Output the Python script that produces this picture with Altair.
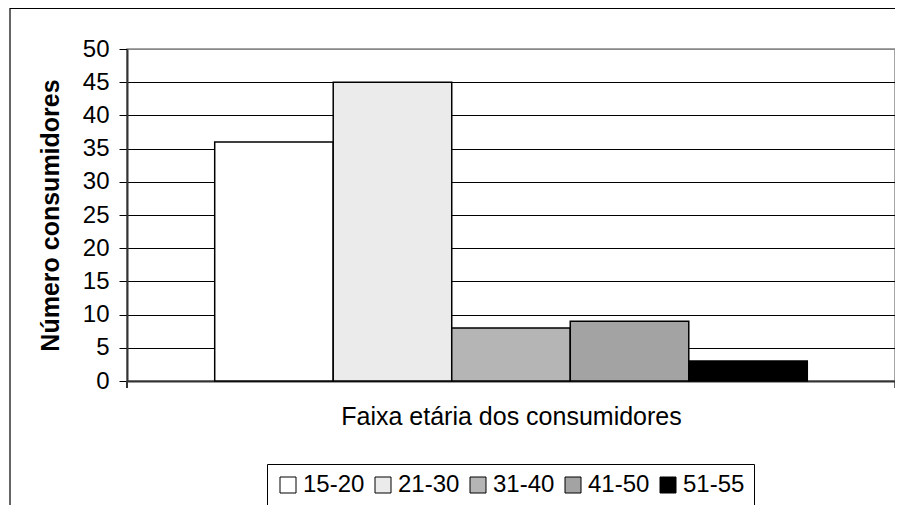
import altair as alt
import pandas as pd

categories = ["15-20", "21-30", "31-40", "41-50", "51-55"]
values = [36, 45, 8, 9, 3]
fills = ["#ffffff", "#ebebeb", "#b5b5b5", "#a3a3a3", "#000000"]
y_ticks = [0, 5, 10, 15, 20, 25, 30, 35, 40, 45, 50]

FONT = "Liberation Sans, Arial, sans-serif"
W, H = 768, 332

df = pd.DataFrame({"faixa": categories, "n": values})
one = pd.DataFrame({"a": [0]})

border = alt.Chart(one).mark_rect(fill=None, stroke="black", strokeWidth=1.2).encode(
    x=alt.value(-117), x2=alt.value(W + 40), y=alt.value(-40.5), y2=alt.value(H + 200)
)

bars = alt.Chart(df).mark_bar(stroke="black", strokeWidth=1.5).encode(
    x=alt.X(
        "faixa:N",
        sort=categories,
        scale=alt.Scale(paddingInner=0, paddingOuter=0.74),
        axis=alt.Axis(
            labels=False,
            ticks=False,
            title="Faixa etária dos consumidores",
            titleFont=FONT,
            titleFontSize=25,
            titleFontWeight="normal",
            titleColor="black",
            titlePadding=23,
            domainColor="#333333",
            domainWidth=2,
        ),
    ),
    y=alt.Y(
        "n:Q",
        scale=alt.Scale(domain=[0, 50], nice=False),
        axis=alt.Axis(
            values=y_ticks,
            title="Número consumidores",
            titleFont=FONT,
            titleFontSize=25,
            titleFontWeight="bold",
            titleColor="black",
            titlePadding=19,
            labelFont=FONT,
            labelFontSize=24,
            labelColor="black",
            labelPadding=10,
            tickSize=8,
            tickColor="black",
            domainColor="#333333",
            domainWidth=2,
            grid=True,
            gridColor={"condition": {"test": "datum.value == 50", "value": "#888888"}, "value": "black"},
            gridWidth=1,
        ),
    ),
    fill=alt.Fill(
        "faixa:N",
        scale=alt.Scale(domain=categories, range=fills),
        legend=alt.Legend(
            title=None,
            orient="none",
            legendX=140,
            legendY=415,
            direction="horizontal",
            columns=5,
            symbolType="square",
            symbolSize=256,
            symbolStrokeColor="black",
            symbolStrokeWidth=1,
            symbolOpacity=1,
            labelFont=FONT,
            labelFontSize=24,
            labelColor="black",
            labelOffset=3,
            columnPadding=6,
            padding=9,
            strokeColor="black",
            fillColor="white",
        ),
    ),
)

tick_left = alt.Chart(one).mark_rule(color="#333333", strokeWidth=2).encode(
    x=alt.value(0), y=alt.value(H), y2=alt.value(H + 7)
)
tick_right = alt.Chart(one).mark_rule(color="#333333", strokeWidth=1.5).encode(
    x=alt.value(W), y=alt.value(H), y2=alt.value(H + 7)
)

chart = (
    alt.layer(border, bars, tick_left, tick_right)
    .properties(
        width=W,
        height=H,
        autosize=alt.AutoSizeParams(type="none"),
        padding={"left": 119, "top": 41, "right": 0, "bottom": 124},
        background="white",
    )
    .configure_view(stroke="#888888", strokeWidth=1.5)
)

chart.save("out.html", embed_options={"renderer": "svg", "actions": False})
